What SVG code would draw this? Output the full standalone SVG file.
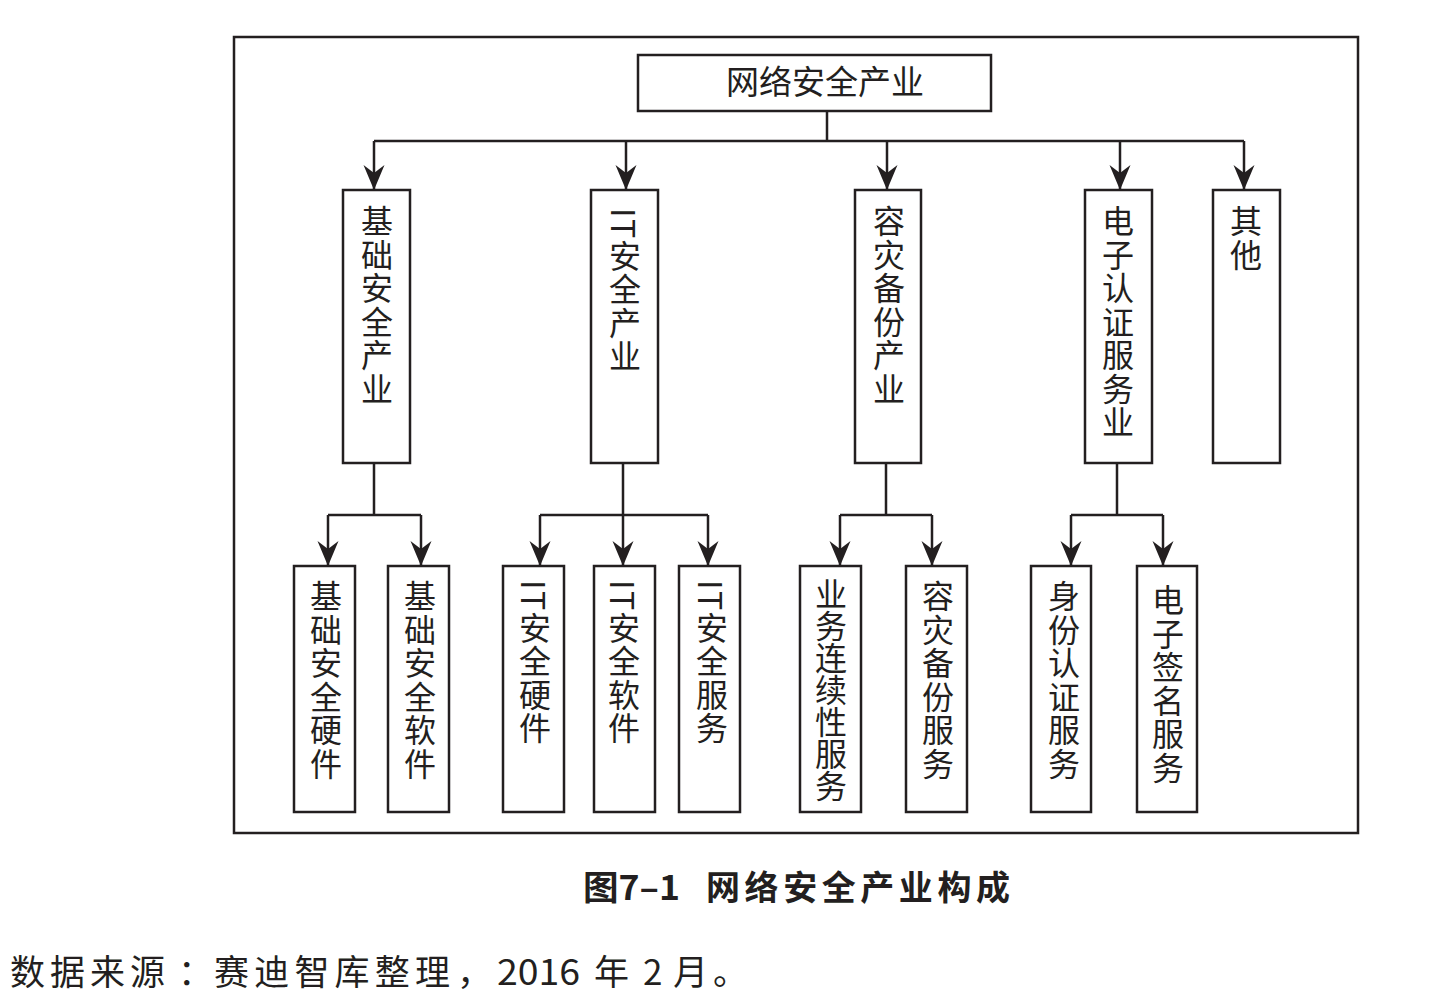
<svg xmlns="http://www.w3.org/2000/svg" width="1443" height="1007" viewBox="0 0 1443 1007">
<defs>
<marker id="ah" viewBox="0 -11 25 22" refX="25" refY="0" markerWidth="25" markerHeight="22" markerUnits="userSpaceOnUse" orient="auto">
<path d="M0,-10.5 L25,0 L0,10.5 L8,0 Z" fill="#231f20"/>
</marker>
</defs>
<style>
.box{fill:#fff;stroke:#231f20;stroke-width:2.5}
.ln{fill:none;stroke:#231f20;stroke-width:2.5}
.v{font-family:"Noto Sans CJK SC","Noto Sans",sans-serif;font-size:32px;fill:#231f20;writing-mode:vertical-rl;letter-spacing:1.5px}
.h{font-family:"Noto Sans CJK SC","Noto Sans",sans-serif;font-size:33px;fill:#231f20}
.cap{font-family:"Noto Sans CJK SC",sans-serif;font-size:34px;font-weight:bold;fill:#231f20}
.src{font-family:"Noto Sans CJK SC",sans-serif;font-size:35px;fill:#231f20}
</style>
<rect x="0" y="0" width="1443" height="1007" fill="#fff"/>
<rect x="234" y="37" width="1124" height="796" fill="none" stroke="#231f20" stroke-width="2.5"/>

<g id="connectors">
<path class="ln" d="M827,111 V141 M374,141 H1244"/>
<path class="ln" d="M374,141 V190" marker-end="url(#ah)"/>
<path class="ln" d="M626,141 V190" marker-end="url(#ah)"/>
<path class="ln" d="M887,141 V190" marker-end="url(#ah)"/>
<path class="ln" d="M1120,141 V190" marker-end="url(#ah)"/>
<path class="ln" d="M1244,141 V190" marker-end="url(#ah)"/>
<path class="ln" d="M374,463 V515 M328,515 H421"/>
<path class="ln" d="M328,515 V566" marker-end="url(#ah)"/>
<path class="ln" d="M421,515 V566" marker-end="url(#ah)"/>
<path class="ln" d="M623,463 V515 M540,515 H708"/>
<path class="ln" d="M540,515 V566" marker-end="url(#ah)"/>
<path class="ln" d="M623,515 V566" marker-end="url(#ah)"/>
<path class="ln" d="M708,515 V566" marker-end="url(#ah)"/>
<path class="ln" d="M886,463 V515 M840,515 H932"/>
<path class="ln" d="M840,515 V566" marker-end="url(#ah)"/>
<path class="ln" d="M932,515 V566" marker-end="url(#ah)"/>
<path class="ln" d="M1117,463 V515 M1071,515 H1163"/>
<path class="ln" d="M1071,515 V566" marker-end="url(#ah)"/>
<path class="ln" d="M1163,515 V566" marker-end="url(#ah)"/>
</g>

<g id="root">
<rect class="box" x="638" y="55" width="353" height="56"/>
<text class="h" x="825" y="94" text-anchor="middle">网络安全产业</text>
</g>

<g id="n-jichu"><rect class="box" x="343" y="190" width="67" height="273"/><text class="v" x="377" y="205">基础安全产业</text></g>
<g id="n-it"><rect class="box" x="591" y="190" width="67" height="273"/><text class="v" x="625" y="208">IT安全产业</text></g>
<g id="n-rongzai"><rect class="box" x="855" y="190" width="66" height="273"/><text class="v" x="889" y="205">容灾备份产业</text></g>
<g id="n-dianzi"><rect class="box" x="1085" y="190" width="67" height="273"/><text class="v" x="1118" y="205">电子认证服务业</text></g>
<g id="n-qita"><rect class="box" x="1213" y="190" width="67" height="273"/><text class="v" x="1246" y="205">其他</text></g>

<g id="n-jcyj"><rect class="box" x="294" y="566" width="61" height="246"/><text class="v" x="326" y="580">基础安全硬件</text></g>
<g id="n-jcrj"><rect class="box" x="388" y="566" width="61" height="246"/><text class="v" x="420" y="580">基础安全软件</text></g>
<g id="n-ityj"><rect class="box" x="503" y="566" width="61" height="246"/><text class="v" x="535" y="580">IT安全硬件</text></g>
<g id="n-itrj"><rect class="box" x="594" y="566" width="61" height="246"/><text class="v" x="624" y="580">IT安全软件</text></g>
<g id="n-itfw"><rect class="box" x="679" y="566" width="61" height="246"/><text class="v" x="712" y="580">IT安全服务</text></g>
<g id="n-ywlx"><rect class="box" x="800" y="566" width="61" height="246"/><text class="v" x="831" y="578" style="letter-spacing:0">业务连续性服务</text></g>
<g id="n-rzfw"><rect class="box" x="906" y="566" width="61" height="246"/><text class="v" x="938" y="580">容灾备份服务</text></g>
<g id="n-sfrz"><rect class="box" x="1031" y="566" width="60" height="246"/><text class="v" x="1064" y="580">身份认证服务</text></g>
<g id="n-dzqm"><rect class="box" x="1137" y="566" width="60" height="246"/><text class="v" x="1168" y="584">电子签名服务</text></g>

<text class="cap" y="900"><tspan x="583" textLength="97" lengthAdjust="spacingAndGlyphs">图7–1</tspan><tspan x="706" textLength="304" lengthAdjust="spacing">网络安全产业构成</tspan></text>
<text class="src" y="985"><tspan x="10" textLength="155" lengthAdjust="spacing">数据来源</tspan><tspan x="178">：</tspan><tspan x="214" textLength="236" lengthAdjust="spacing">赛迪智库整理</tspan><tspan x="457">，</tspan><tspan x="497" textLength="83" lengthAdjust="spacingAndGlyphs">2016</tspan><tspan x="594">年</tspan><tspan x="643">2</tspan><tspan x="673">月</tspan><tspan x="713">。</tspan></text>
</svg>
